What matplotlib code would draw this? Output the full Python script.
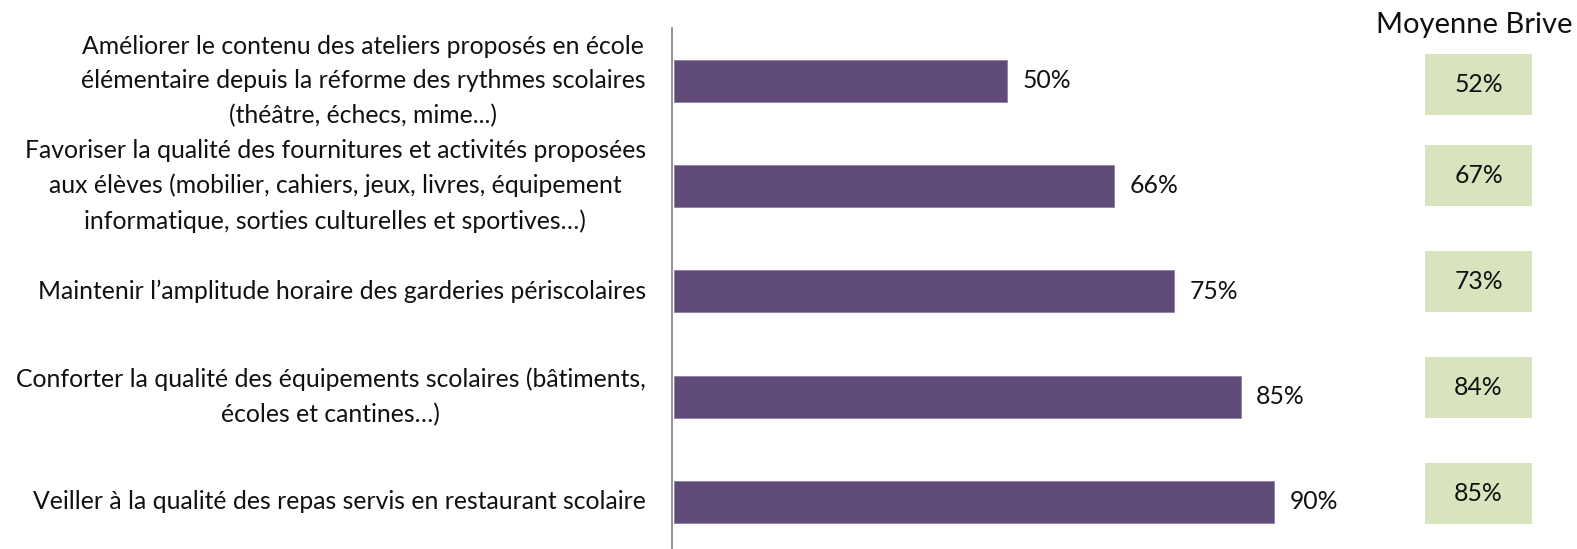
import matplotlib
matplotlib.use("Agg")
import matplotlib.pyplot as plt
from matplotlib.patches import Rectangle

categories = [
    "Améliorer le contenu des ateliers proposés en école\nélémentaire depuis la réforme des rythmes scolaires\n(théâtre, échecs, mime...)",
    "Favoriser la qualité des fournitures et activités proposées\naux élèves (mobilier, cahiers, jeux, livres, équipement\ninformatique, sorties culturelles et sportives…)",
    "Maintenir l’amplitude horaire des garderies périscolaires",
    "Conforter la qualité des équipements scolaires (bâtiments,\nécoles et cantines…)",
    "Veiller à la qualité des repas servis en restaurant scolaire",
]
values = [50, 66, 75, 85, 90]
brive_values = [52, 67, 73, 84, 85]
brive_title = "Moyenne Brive"

W, H = 1577, 549
DPI = 100
BAR_COLOR = "#614B79"
BOX_COLOR = "#D7E4BD"
FONT = "Lato"

fig = plt.figure(figsize=(W / DPI, H / DPI), dpi=DPI)
fig.patch.set_facecolor("white")

ax_left_px, ax_top_px, ax_bot_px = 673.5, 28, 554.6
px_per_unit = 6.675
ax_w_px = 100 * px_per_unit
ax = fig.add_axes([ax_left_px / W, (H - ax_bot_px) / H, ax_w_px / W,
                   (ax_bot_px - ax_top_px) / H])
ax.set_xlim(0, 100)
ax.set_ylim(len(categories) - 0.5, -0.5)
ax.set_axis_off()

ypos = list(range(len(categories)))
ax.barh(ypos, values, height=0.4, color=BAR_COLOR, edgecolor="#8f7fa3",
        linewidth=0.6)
ax.axvline(-0.25, color="#8c8c8c", linewidth=1.3, clip_on=False)

fs = 17.8
for y, v in zip(ypos, values):
    ax.annotate(f"{v}%", xy=(v, y), xytext=(11, 0), textcoords="offset points",
                ha="left", va="center", fontsize=fs, family=FONT, color="#111111")

for y, lab in zip(ypos, categories):
    ax.annotate(lab, xy=(0, y), xytext=(-20, 0), textcoords="offset points",
                ha="right", va="center", multialignment="center",
                fontsize=fs, family=FONT, color="#111111", linespacing=1.6,
                annotation_clip=False)

box_x0, box_x1 = 1425, 1532
box_h = 61
box_centers_px = [84.5, 175.5, 281.5, 387.5, 493.5]
for cy, bv in zip(box_centers_px, brive_values):
    fig.patches.append(Rectangle((box_x0 / W, (H - cy - box_h / 2) / H),
                                 (box_x1 - box_x0) / W, box_h / H,
                                 transform=fig.transFigure, facecolor=BOX_COLOR,
                                 edgecolor="none"))
    fig.text((box_x0 + box_x1) / 2 / W, (H - cy) / H, f"{bv}%", ha="center",
             va="center", fontsize=fs, family=FONT, color="#111111")

fig.text(1474.5 / W, (H - 25) / H, brive_title, ha="center", va="center",
         fontsize=21, family=FONT, color="#111111")

fig.savefig("out.png", dpi=DPI, facecolor="white")
